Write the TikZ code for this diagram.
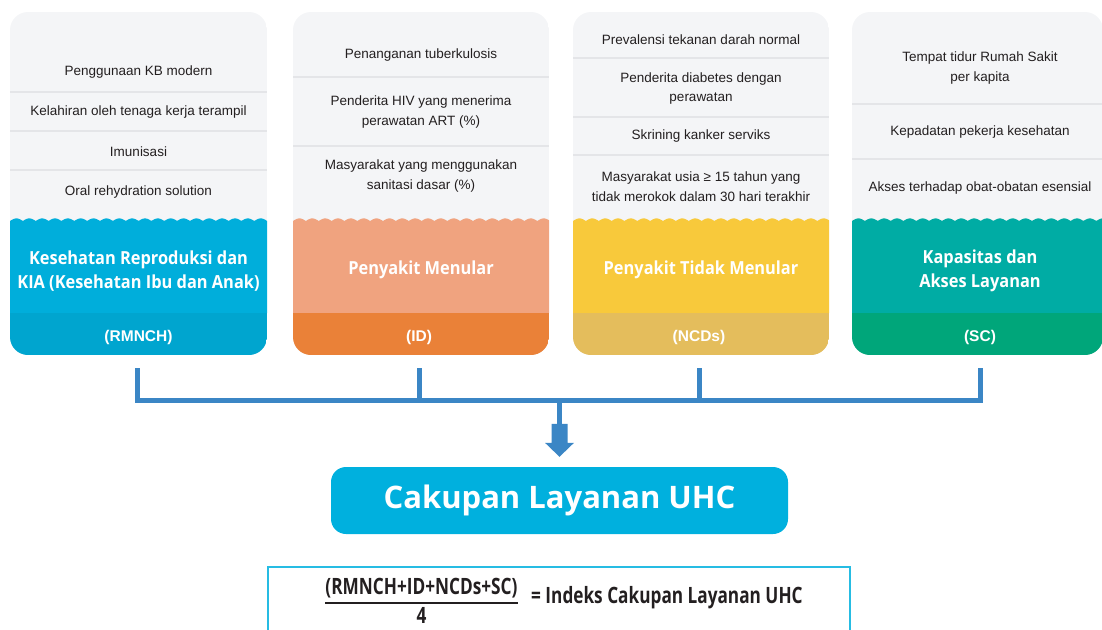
\documentclass[tikz,border=0pt]{standalone}
\usepackage{fontspec}
\setmainfont{Liberation Sans}
\newfontfamily\headfont{Open Sans}[FakeStretch=0.91]
\newfontfamily\boxfont{Open Sans}
\newfontfamily\narrowfont{Open Sans}[FakeStretch=0.765]
\usetikzlibrary{positioning,calc}

\definecolor{rmnchmain}{HTML}{00AEDB}
\definecolor{rmnchdark}{HTML}{00A5CF}
\definecolor{idmain}{HTML}{F0A37F}
\definecolor{iddark}{HTML}{EA8138}
\definecolor{ncdmain}{HTML}{F8C93B}
\definecolor{ncddark}{HTML}{E4BD5C}
\definecolor{scmain}{HTML}{00ACA4}
\definecolor{scdark}{HTML}{00A67A}
\definecolor{cardgray}{HTML}{F4F5F7}
\definecolor{rulegray}{HTML}{E4E5E8}
\definecolor{busblue}{HTML}{3B86C5}
\definecolor{uhcblue}{HTML}{00B0DE}
\definecolor{inktext}{HTML}{231F20}

\tikzset{
  item/.style={text=inktext, align=center, inner sep=0pt,
    font=\fontsize{13.5}{19.5}\selectfont},
  cardtitle/.style={text=white, align=center, inner sep=0pt,
    font=\headfont\bfseries\fontsize{18}{24}\selectfont},
  cardtag/.style={text=white, inner sep=0pt,
    font=\bfseries\fontsize{15.5}{17}\selectfont},
  rulesep/.style={rulegray, line width=2.5pt},
  bus/.style={busblue, line width=5pt},
}

% card body: left x, width, main colour, band colour
\newcommand{\indicatorcard}[4]{
  \begin{scope}
    \clip[rounded corners=18pt] (#1,12) rectangle ++(#2,343);
    \fill[cardgray] (#1,12) rectangle ++(#2,343);
    \fill[#3] plot[domain=0:#2,samples=240] ({#1+\x},{221-2.6*abs(sin(\x*14))})
      -- (#1+#2,313) -- (#1,313) -- cycle;
    \fill[#4] (#1,313) rectangle ++(#2,42);
  \end{scope}
}

\begin{document}
\begin{tikzpicture}[x=1pt,y=-1pt]
  \useasboundingbox (0,0) rectangle (1102,629);

  % RMNCH
  \indicatorcard{10}{257}{rmnchmain}{rmnchdark}
  \foreach \y in {92,131,170} \draw[rulesep] (10,\y) -- ++(257,0);
  \node[item] (rmnch-kb) at (138.5,72) {Penggunaan KB modern};
  \node[item] (rmnch-lahir) at (138.5,112) {Kelahiran oleh tenaga kerja terampil};
  \node[item] (rmnch-imun) at (138.5,152) {Imunisasi};
  \node[item] (rmnch-ors) at (138.5,192) {Oral rehydration solution};
  \node[cardtitle] (rmnch-title) at (138.5,271) {Kesehatan Reproduksi dan\\KIA (Kesehatan Ibu dan Anak)};
  \node[cardtag] (rmnch) at (138.5,337) {(RMNCH)};

  % ID
  \indicatorcard{293}{256}{idmain}{iddark}
  \foreach \y in {77,146} \draw[rulesep] (293,\y) -- ++(256,0);
  \node[item] (id-tb) at (421,55) {Penanganan tuberkulosis};
  \node[item] (id-hiv) at (421,112) {Penderita HIV yang menerima\\perawatan ART (\%)};
  \node[item] (id-sanitasi) at (421,176) {Masyarakat yang menggunakan\\sanitasi dasar (\%)};
  \node[cardtitle] (id-title) at (421,270) {Penyakit Menular};
  \node[cardtag] (id) at (419,337) {(ID)};

  % NCDs
  \indicatorcard{573}{256}{ncdmain}{ncddark}
  \foreach \y in {58,117,155} \draw[rulesep] (573,\y) -- ++(256,0);
  \node[item] (ncd-tensi) at (701,40) {Prevalensi tekanan darah normal};
  \node[item] (ncd-diabetes) at (701,88.5) {Penderita diabetes dengan\\perawatan};
  \node[item] (ncd-serviks) at (701,136) {Skrining kanker serviks};
  \node[item] (ncd-rokok) at (701,186.5) {Masyarakat usia \char"2265{} 15 tahun yang\\tidak merokok dalam 30 hari terakhir};
  \node[cardtitle] (ncd-title) at (701,270) {Penyakit Tidak Menular};
  \node[cardtag] (ncds) at (699,337) {(NCDs)};

  % SC
  \indicatorcard{852}{251}{scmain}{scdark}
  \foreach \y in {104,159} \draw[rulesep] (852,\y) -- ++(251,0);
  \node[item] (sc-bed) at (980,68) {Tempat tidur Rumah Sakit\\per kapita};
  \node[item] (sc-nakes) at (980,132) {Kepadatan pekerja kesehatan};
  \node[item] (sc-obat) at (980,188) {Akses terhadap obat-obatan esensial};
  \node[cardtitle] (sc-title) at (980,271) {Kapasitas dan\\Akses Layanan};
  \node[cardtag] (sc) at (980,337) {(SC)};

  % bus to the index
  \node[fill=uhcblue, rounded corners=15pt, minimum width=457pt, minimum height=67pt,
    text=white, font=\boxfont\bfseries\fontsize{31}{36}\selectfont]
    (uhc) at (559.5,500.5) {\raisebox{-2pt}{Cakupan Layanan UHC}};
  \coordinate (rmnch-foot) at (137,368);
  \coordinate (id-foot) at (id |- 0,368);
  \coordinate (ncd-foot) at (ncds |- 0,368);
  \coordinate (sc-foot) at (sc |- 0,368);
  \coordinate (hub) at (uhc |- 0,400);
  \draw[bus] (rmnch-foot) |- (hub) -| (sc-foot);
  \draw[bus] (id-foot) -- (id-foot |- hub);
  \draw[bus] (ncd-foot) -- (ncd-foot |- hub);
  \draw[bus] (hub) -- ($(uhc.north)+(0,-42)$);
  \fill[busblue] ($(uhc.north)+(-8,-43)$) -- ($(uhc.north)+(8,-43)$)
    -- ($(uhc.north)+(8,-24)$) -- ($(uhc.north)+(14.5,-24)$)
    -- ($(uhc.north)+(0,-10)$) -- ($(uhc.north)+(-14.5,-24)$)
    -- ($(uhc.north)+(-8,-24)$) -- cycle;

  % formula
  \node[draw=uhcblue!85, line width=2pt, minimum width=582pt, minimum height=80pt]
    (indexbox) at (559,607) {};
  \begin{scope}[every node/.style={text=inktext, inner sep=0pt,
      font=\narrowfont\bfseries\fontsize{22.5}{24}\selectfont}]
    \node (numer) at (421.5,588) {(RMNCH+ID+NCDs+SC)};
    \node (denom) at (421.5,615) {4};
    \node[anchor=west] (indeks) at (531,598) {= Indeks Cakupan Layanan UHC};
  \end{scope}
  \draw[inktext, line width=1.6pt] (numer.south west |- 0,603) -- (numer.south east |- 0,603);
\end{tikzpicture}
\end{document}
